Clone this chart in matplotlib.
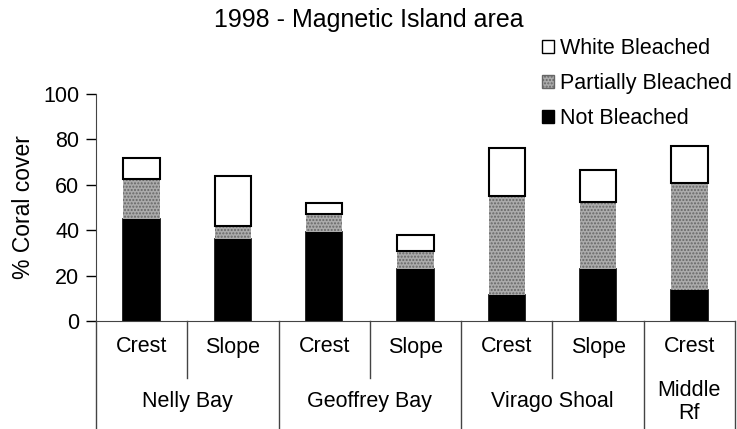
import numpy as np
import matplotlib
matplotlib.use('Agg')
import matplotlib.pyplot as plt
from matplotlib.patches import Patch

plt.rcParams['font.family'] = ['Liberation Sans', 'DejaVu Sans']

# data
zones = ['Crest', 'Slope', 'Crest', 'Slope', 'Crest', 'Slope', 'Crest']
sites = ['Nelly Bay', 'Geoffrey Bay', 'Virago Shoal', 'Middle\nRf']
site_spans = [(0, 2), (2, 4), (4, 6), (6, 7)]
not_bleached = [45, 36, 39, 23, 11.5, 23, 13.5]
partial = [17.5, 6, 8, 8, 43.5, 29.5, 47.5]
white = [9.5, 22, 5, 7, 21, 14, 16]
yticks = [0, 20, 40, 60, 80, 100]

fs = 15.5

fig = plt.figure(figsize=(7.37, 4.29), dpi=100)
ax = fig.add_axes([96 / 737, 108 / 429, 639 / 737, 227 / 429])

x = np.arange(len(zones))
nb = np.array(not_bleached)
pb = np.array(partial)
wb = np.array(white)
w = 0.4

ax.bar(x, nb, w, color='black', edgecolor='black', linewidth=1.2)
ax.bar(x, pb, w, bottom=nb, color='#ababab', edgecolor='#666666',
       hatch='.....', linewidth=0)
ax.bar(x, wb, w, bottom=nb + pb, color='white', edgecolor='black', linewidth=1.5)

ax.set_xlim(-0.5, len(zones) - 0.5)
ax.set_ylim(0, 100)
ax.set_yticks(yticks)
ax.set_xticks([])
ax.tick_params(axis='y', direction='out', length=7, width=1, labelsize=fs, pad=5)
ax.spines['top'].set_visible(False)
ax.spines['right'].set_visible(False)
ax.spines['bottom'].set_color('#444444')
ax.spines['left'].set_color('#444444')
ax.set_ylabel('% Coral cover', fontsize=16.5, labelpad=6)

# category table under the axis
row1 = -57 / 227
row2 = -108 / 227
lc = '#444444'
tr = ax.get_xaxis_transform()
for i, z in enumerate(zones):
    ax.text(i, -26 / 227, z, transform=tr, ha='center', va='center', fontsize=fs)
for name, (a, b) in zip(sites, site_spans):
    ax.text((a + b - 1) / 2, -81 / 227, name, transform=tr,
            ha='center', va='center', fontsize=fs, linespacing=1.15)
    # inner divider between crest and slope
    for k in range(a + 1, b):
        ax.plot([k - 0.5, k - 0.5], [0, row1], color=lc, lw=1,
                transform=tr, clip_on=False)
    ax.plot([b - 0.5, b - 0.5], [0, row2], color=lc, lw=1,
            transform=tr, clip_on=False)
ax.plot([-0.5, -0.5], [0, row2], color=lc, lw=1, transform=tr, clip_on=False)

fig.text(369 / 737, 1 - 20 / 429, '1998 - Magnetic Island area',
         ha='center', va='center', fontsize=18)

handles = [Patch(facecolor='white', edgecolor='black', linewidth=1),
           Patch(facecolor='#ababab', edgecolor='#666666', hatch='.....', linewidth=1),
           Patch(facecolor='black', edgecolor='black', linewidth=1)]
labels = ['White Bleached', 'Partially Bleached', 'Not Bleached']
fig.legend(handles, labels, loc='upper left', bbox_to_anchor=(542 / 737, 1 - 38 / 429),
           frameon=False, fontsize=fs, handlelength=0.55, handleheight=0.55,
           handletextpad=0.3, labelspacing=0.66, borderpad=0, borderaxespad=0)

fig.savefig('out.png', dpi=100)
